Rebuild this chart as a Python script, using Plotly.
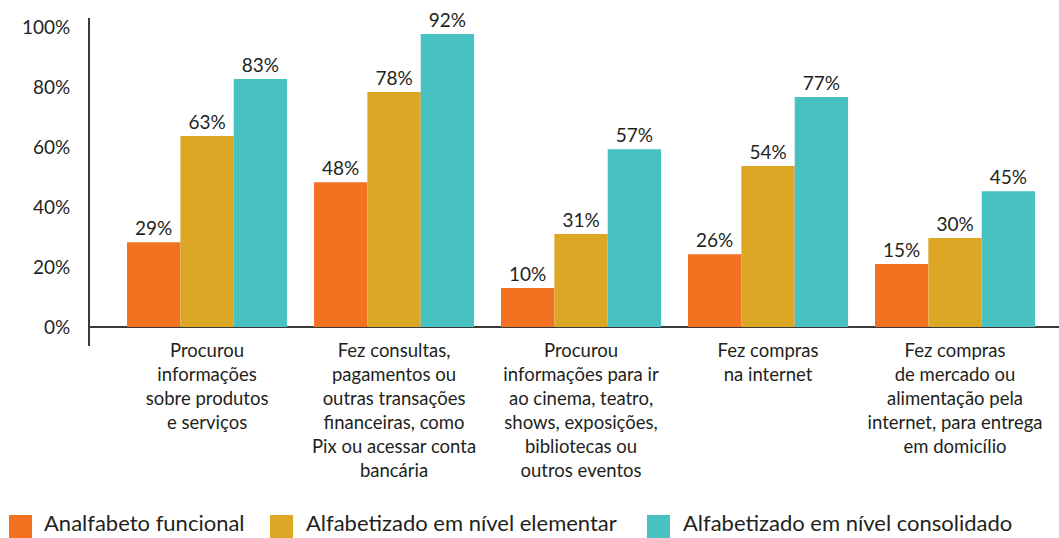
import plotly.graph_objects as go

categories = [
    "Procurou<br>informações<br>sobre produtos<br>e serviços",
    "Fez consultas,<br>pagamentos ou<br>outras transações<br>financeiras, como<br>Pix ou acessar conta<br>bancária",
    "Procurou<br>informações para ir<br>ao cinema, teatro,<br>shows, exposições,<br>bibliotecas ou<br>outros eventos",
    "Fez compras<br>na internet",
    "Fez compras<br>de mercado ou<br>alimentação pela<br>internet, para entrega<br>em domicílio",
]

series_names = [
    "Analfabeto funcional",
    "Alfabetizado em nível elementar",
    "Alfabetizado em nível consolidado",
]

# bar heights as drawn in the picture (%)
analfabeto_values = [28.3, 48.3, 13.0, 24.3, 21.0]
elementar_values = [63.7, 78.3, 31.0, 53.7, 29.7]
consolidado_values = [82.7, 97.7, 59.3, 76.7, 45.3]

# printed labels
analfabeto_labels = ["29%", "48%", "10%", "26%", "15%"]
elementar_labels = ["63%", "78%", "31%", "54%", "30%"]
consolidado_labels = ["83%", "92%", "57%", "77%", "45%"]

y_tick_values = [0, 20, 40, 60, 80, 100]
y_tick_labels = ["0%", "20%", "40%", "60%", "80%", "100%"]

colors = ["#f37222", "#dda726", "#48c1c2"]
text_color = "#231f20"
font_family = "Lato, 'Open Sans', sans-serif"

fig = go.Figure()
for name, vals, labs, col in zip(
    series_names,
    [analfabeto_values, elementar_values, consolidado_values],
    [analfabeto_labels, elementar_labels, consolidado_labels],
    colors,
):
    fig.add_trace(go.Bar(
        x=categories, y=vals, name=name, text=labs,
        textposition="outside", texttemplate="%{text}",
        textfont=dict(size=19, color=text_color, family=font_family),
        marker=dict(color=col, line=dict(width=0)),
        cliponaxis=False, showlegend=False, hoverinfo="skip",
    ))

W, H = 1059, 538
ml, mr, mt, mb = 90, 0, 18, 192
pw, ph = W - ml - mr, H - mt - mb

def px_to_paper(x, y):
    return (x - ml) / pw, (H - mb - y) / ph

# custom legend
legend_items = [(9, 42), (270, 304), (647, 681)]
shapes = []
annotations = []
for (sx, tx), name, col in zip(legend_items, series_names, colors):
    x0, y0 = px_to_paper(sx, 515)
    x1, y1 = px_to_paper(sx + 23, 538)
    shapes.append(dict(type="rect", xref="paper", yref="paper",
                       x0=x0, x1=x1, y0=y1, y1=y0,
                       fillcolor=col, line=dict(width=0), layer="above"))
    ax, ay = px_to_paper(tx, 522)
    annotations.append(dict(xref="paper", yref="paper", x=ax, y=ay,
                            xanchor="left", yanchor="middle", showarrow=False,
                            text=name, font=dict(size=22, color=text_color, family=font_family)))

fig.update_layout(
    width=W, height=H,
    margin=dict(l=ml, r=mr, t=mt, b=mb, pad=0),
    paper_bgcolor="white", plot_bgcolor="white",
    barmode="group", bargap=0.144, bargroupgap=0,
    font=dict(family=font_family, color=text_color),
    shapes=shapes, annotations=annotations,
    xaxis=dict(
        range=[-0.626, 4.556], showgrid=False, showline=False, zeroline=False,
        ticks="", tickfont=dict(size=18.5, color=text_color, family=font_family),
        ticklabelstandoff=-9, tickangle=0,
    ),
    yaxis=dict(
        range=[-6.3, 103], showgrid=False, showline=True, linecolor="#3a3a3a", linewidth=2,
        zeroline=True, zerolinecolor="#3a3a3a", zerolinewidth=2,
        tickvals=y_tick_values, ticktext=y_tick_labels, ticks="",
        tickfont=dict(size=19, color=text_color, family=font_family),
        ticklabelstandoff=14,
    ),
)

fig.write_html(
    "out.html",
    config={"displayModeBar": False},
    post_script="document.body.style.margin='0';document.body.style.overflow='hidden';",
)
